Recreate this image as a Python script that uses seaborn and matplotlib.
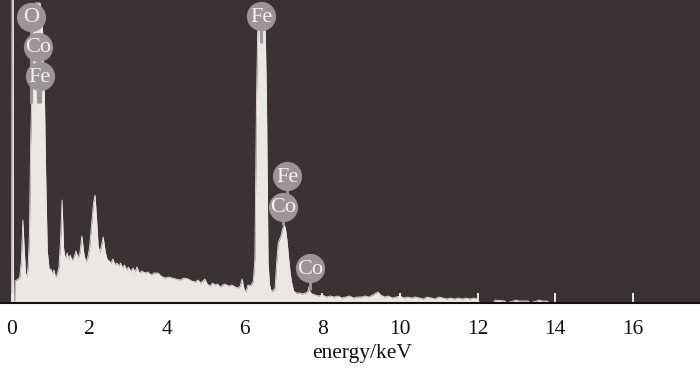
import numpy as np
import pandas as pd
import matplotlib
matplotlib.use("Agg")
import matplotlib.pyplot as plt
import seaborn as sns

# ---- spectrum (energy in keV, intensity in arbitrary units) ----
energy = [
    -0.01, 0.00, 0.03, 0.04, 0.07, 0.08, 0.12, 0.16, 0.20, 0.24, 0.28, 0.31, 0.35, 0.39,
    0.42, 0.45, 0.48, 0.52, 0.56, 0.60, 0.66, 0.72, 0.78, 0.83, 0.87, 0.91, 0.96,
    1.00, 1.04, 1.08, 1.12, 1.16, 1.21, 1.25, 1.29, 1.33, 1.37, 1.42, 1.46, 1.50, 1.55,
    1.60, 1.65, 1.70, 1.75, 1.80, 1.85, 1.90, 1.95, 2.00, 2.05, 2.10, 2.14, 2.18, 2.22,
    2.26, 2.31, 2.35, 2.40, 2.45, 2.50, 2.55, 2.60, 2.65, 2.70, 2.75, 2.80, 2.85, 2.90,
    2.95, 3.00, 3.06, 3.12, 3.17, 3.22, 3.28, 3.35, 3.43, 3.50, 3.58, 3.66, 3.76, 3.84,
    3.94, 4.03, 4.12, 4.22, 4.33, 4.43, 4.54, 4.63, 4.72, 4.80, 4.85, 4.92, 4.97, 5.03,
    5.10, 5.17, 5.23, 5.30, 5.36, 5.43, 5.49, 5.58, 5.67, 5.75, 5.82, 5.88, 5.93, 5.98,
    6.03, 6.08, 6.13, 6.18, 6.22, 6.26, 6.30, 6.34, 6.38, 6.42, 6.48, 6.52, 6.56, 6.60,
    6.64, 6.68, 6.72, 6.78, 6.82, 6.86, 6.90, 6.94, 6.98, 7.02, 7.05, 7.09, 7.13, 7.17,
    7.21, 7.26, 7.32, 7.40, 7.48, 7.56, 7.62, 7.65, 7.68, 7.74, 7.82, 7.90, 8.00, 8.10,
    8.20, 8.30, 8.40, 8.50, 8.60, 8.70, 8.80, 8.90, 9.00, 9.10, 9.20, 9.30, 9.38, 9.43,
    9.50, 9.60, 9.70, 9.80, 9.90, 10.00, 10.10, 10.20, 10.30, 10.40, 10.50, 10.60,
    10.70, 10.80, 10.90, 11.00, 11.10, 11.20, 11.30, 11.40, 11.50, 11.60, 11.70, 11.80,
    11.90, 12.00, 12.05, 12.40, 12.45, 12.70, 12.75, 13.00, 13.05, 13.30, 13.35, 13.60,
    13.65, 13.80, 13.85, 17.80,
]
counts = [
    0, 310, 310, 0, 0, 22, 23, 24, 26, 42, 83, 58, 30, 26,
    40, 70, 160, 225, 282, 300, 300, 300, 282, 222, 125, 52, 33,
    34, 29, 33, 26, 28, 36, 62, 103, 55, 44, 50, 44, 48, 42,
    46, 52, 45, 50, 67, 50, 41, 45, 56, 78, 100, 108, 84, 58,
    50, 58, 66, 52, 44, 42, 40, 44, 38, 40, 37, 40, 35, 38,
    33, 36, 32, 35, 31, 36, 30, 32, 30, 31, 28, 30, 30, 27,
    25, 26, 25, 24, 23, 25, 24, 22, 21, 23, 20, 22, 24, 19,
    17, 20, 18, 19, 16, 18, 19, 17, 18, 16, 15, 17, 24, 14,
    11, 18, 17, 19, 22, 45, 200, 290, 300, 300, 300, 290, 200, 40,
    18, 12, 12, 15, 40, 60, 64, 68, 75, 78, 74, 62, 45, 30,
    20, 12, 10, 10, 9, 10, 11, 16, 11, 9, 8, 7, 8, 6,
    7, 6, 7, 5, 6, 7, 5, 6, 6, 7, 6, 8, 10, 11,
    8, 6, 7, 5, 6, 7, 5, 6, 5, 6, 5, 4,
    6, 5, 4, 6, 5, 4, 5, 4, 5, 4, 5, 4,
    5, 4, 0, 0, 3, 2, 0, 3, 2, 2, 0, 3,
    2, 2, 0, 0,
]

# ---- element labels ----
label_text = ["O", "Co", "Fe", "Fe", "Fe", "Co", "Co"]
label_keV = [0.49, 0.67, 0.72, 6.42, 7.09, 6.98, 7.68]
label_height = [286, 256, 227, 287, 127, 96, 35]
label_stem_to = [200, 200, 200, 260, 96, 78, 13]

xticks = [0, 2, 4, 6, 8, 10, 12, 14, 16]

df = pd.DataFrame({"energy": energy, "counts": counts})

sns.set_theme(style="white")
plt.rcParams["font.family"] = ["Liberation Serif", "DejaVu Serif"]

BG = "#3b3331"
FILL = "#ebe7e3"
BUBBLE = "#9c9593"

fig = plt.figure(figsize=(7.0, 3.71), dpi=100)
ax = fig.add_axes([0, 68 / 371, 1, 303 / 371])
ax.set_facecolor(BG)

ax.fill_between(df["energy"], 0, df["counts"], color=FILL, lw=0, zorder=2)
sns.lineplot(data=df, x="energy", y="counts", color=FILL, lw=0.6, ax=ax, zorder=2,
             estimator=None, sort=False)

for t, x, y, y0 in zip(label_text, label_keV, label_height, label_stem_to):
    ax.plot([x, x], [y0, y], color=BUBBLE, lw=2.2, zorder=3, solid_capstyle="butt")
for t, x, y in zip(label_text, label_keV, label_height):
    ax.plot([x], [y], marker="o", ms=20, color=BUBBLE, mec=BUBBLE, zorder=4)
    ax.text(x, y - 1, t, color="#f4f1ee", fontsize=16, ha="center", va="center",
            zorder=5)

ax.set_xlim(-12 / 38.8, 688 / 38.8)
ax.set_ylim(0, 303)
ax.set_xticks(xticks)
ax.set_xticklabels([str(v) for v in xticks])
ax.set_yticks([])
ax.tick_params(axis="x", direction="in", length=7, width=1.4, color=FILL,
               labelsize=15.5, pad=12.5, labelcolor="#111111", bottom=True)
for s in ["top", "left", "right"]:
    ax.spines[s].set_visible(False)
ax.spines["bottom"].set_color("#111111")
ax.spines["bottom"].set_linewidth(1.5)
ax.spines["bottom"].set_zorder(6)
ax.set_xlabel("energy/keV", fontsize=15.5, color="#111111")
ax.xaxis.set_label_coords(362 / 700, -0.135)
ax.xaxis.label.set_va("top")
ax.set_ylabel("")

fig.savefig("out.png", dpi=100, facecolor="white")
